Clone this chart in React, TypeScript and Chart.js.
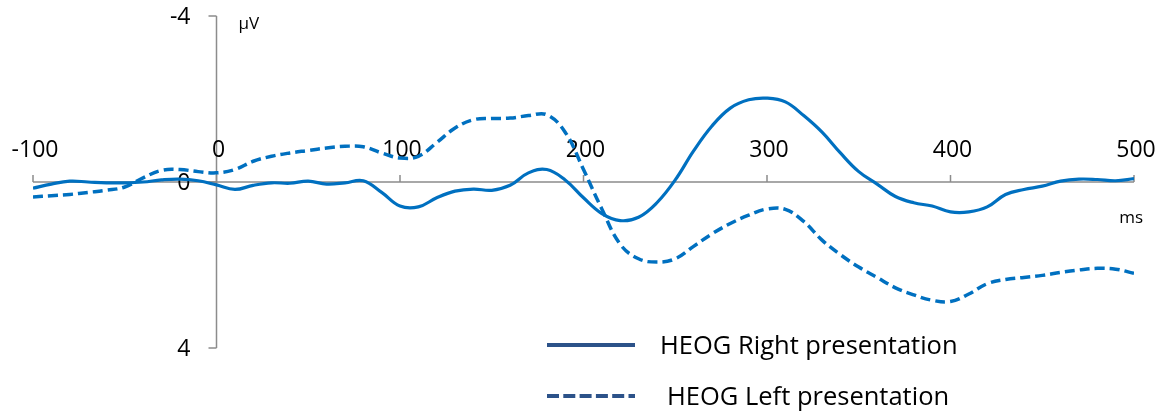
import { useEffect, useRef } from 'react';
import { Chart, registerables } from 'chart.js';

Chart.register(...registerables);

// Time points (ms) of the averaged HEOG waveforms
const timesMs = [
  -100, -90, -80, -70, -60, -50, -40, -30, -20, -10,
  0, 10, 20, 30, 40, 50, 60, 70, 80, 90,
  100, 110, 120, 130, 140, 150, 160, 170, 180, 190,
  200, 210, 220, 230, 240, 250, 260, 270, 280, 290,
  300, 310, 320, 330, 340, 350, 360, 370, 380, 390,
  400, 410, 420, 430, 440, 450, 460, 470, 480, 490,
  500,
];

// HEOG, right-hemifield presentation (µV)
const heogRight = [
  0.15, 0.05, -0.02, 0.0, 0.02, 0.02, 0.0, -0.05, -0.07, -0.03,
  0.07, 0.18, 0.08, 0.02, 0.03, -0.02, 0.05, 0.02, -0.03, 0.25,
  0.58, 0.6, 0.38, 0.22, 0.17, 0.2, 0.08, -0.22, -0.3, -0.05,
  0.38, 0.76, 0.93, 0.85, 0.5, -0.05, -0.75, -1.35, -1.78, -1.98,
  -2.02, -1.93, -1.6, -1.2, -0.7, -0.25, 0.05, 0.35, 0.5, 0.58,
  0.72, 0.72, 0.6, 0.3, 0.18, 0.1, -0.02, -0.07, -0.06, -0.03,
  -0.08,
];

// HEOG, left-hemifield presentation (µV)
const heogLeft = [
  0.36, 0.33, 0.3, 0.25, 0.2, 0.12, -0.1, -0.28, -0.3, -0.25,
  -0.22, -0.3, -0.5, -0.62, -0.7, -0.76, -0.82, -0.86, -0.85, -0.7,
  -0.58, -0.62, -0.95, -1.3, -1.5, -1.53, -1.54, -1.6, -1.62, -1.2,
  -0.3, 0.65, 1.5, 1.85, 1.93, 1.85, 1.55, 1.25, 1.0, 0.8,
  0.65, 0.66, 0.95, 1.4, 1.75, 2.05, 2.3, 2.55, 2.72, 2.85,
  2.88, 2.7, 2.45, 2.35, 2.3, 2.25, 2.18, 2.12, 2.08, 2.1,
  2.2,
];

const xTicks = [-100, 0, 100, 200, 300, 400, 500];
const yTicks = [-4, 0, 4];
const seriesNames = ['HEOG Right presentation', 'HEOG Left presentation'];

const FONT = "'Open Sans', sans-serif";
const AXIS_GREY = '#8c8c8c';
const LINE_BLUE = '#0070c0';
const LEGEND_BLUE = '#2c5289';

// Axes crossing at (0 ms, 0 µV), with tick labels above the time axis
const crossAxesPlugin = {
  id: 'crossAxes',
  beforeDatasetsDraw(chart: any) {
    const { ctx } = chart;
    const xs = chart.scales.x;
    const ys = chart.scales.y;
    const y0 = ys.getPixelForValue(0);
    const x0 = xs.getPixelForValue(0);
    const xLeft = xs.getPixelForValue(xTicks[0]);
    const xRight = xs.getPixelForValue(xTicks[xTicks.length - 1]);
    const yTop = ys.getPixelForValue(yTicks[0]);
    const yBottom = ys.getPixelForValue(yTicks[yTicks.length - 1]);

    ctx.save();
    ctx.strokeStyle = AXIS_GREY;
    ctx.lineWidth = 1.5;

    // time axis + upward ticks
    ctx.beginPath();
    ctx.moveTo(xLeft, y0);
    ctx.lineTo(xRight, y0);
    xTicks.forEach((t) => {
      const px = xs.getPixelForValue(t);
      ctx.moveTo(px, y0);
      ctx.lineTo(px, y0 - 7);
    });
    ctx.stroke();

    // amplitude axis + left ticks
    ctx.beginPath();
    ctx.moveTo(x0, yTop);
    ctx.lineTo(x0, yBottom);
    yTicks.forEach((v) => {
      const py = ys.getPixelForValue(v);
      ctx.moveTo(x0 - 8, py);
      ctx.lineTo(x0, py);
    });
    ctx.stroke();

    ctx.fillStyle = '#000';
    ctx.font = `23px ${FONT}`;
    ctx.textBaseline = 'alphabetic';
    ctx.textAlign = 'center';
    xTicks.forEach((t) => {
      ctx.fillText(String(t), xs.getPixelForValue(t) + 2, y0 - 25);
    });

    ctx.textAlign = 'right';
    yTicks.forEach((v) => {
      ctx.fillText(String(v), x0 - 26, ys.getPixelForValue(v) + 8);
    });

    ctx.font = `17px ${FONT}`;
    ctx.textAlign = 'left';
    ctx.fillText('µV', x0 + 22, yTop + 13);
    ctx.textAlign = 'right';
    ctx.fillText('ms', xRight + 9, y0 + 41);
    ctx.restore();
  },
  afterDraw(chart: any) {
    const { ctx } = chart;
    const rows = [
      { y: 345, dash: [] as number[], textX: 660 },
      { y: 396, dash: [12, 4.3], textX: 667 },
    ];
    ctx.save();
    rows.forEach((row, i) => {
      ctx.strokeStyle = LEGEND_BLUE;
      ctx.lineWidth = 4;
      ctx.setLineDash(row.dash);
      ctx.beginPath();
      ctx.moveTo(547, row.y);
      ctx.lineTo(635, row.y);
      ctx.stroke();
      ctx.setLineDash([]);
      ctx.fillStyle = '#000';
      ctx.font = `25.5px ${FONT}`;
      ctx.textAlign = 'left';
      ctx.textBaseline = 'alphabetic';
      ctx.fillText(seriesNames[i], row.textX, row.y + 9);
    });
    ctx.restore();
  },
};

export default function App() {
  const canvasRef = useRef<HTMLCanvasElement | null>(null);

  useEffect(() => {
    if (!canvasRef.current) return;
    const toPoints = (vals: number[]) => timesMs.map((t, i) => ({ x: t, y: vals[i] }));
    const chart = new Chart(canvasRef.current, {
      type: 'line',
      data: {
        datasets: [
          {
            label: seriesNames[0],
            data: toPoints(heogRight),
            borderColor: LINE_BLUE,
            borderWidth: 3.2,
            pointRadius: 0,
            tension: 0.4,
            fill: false,
          },
          {
            label: seriesNames[1],
            data: toPoints(heogLeft),
            borderColor: LINE_BLUE,
            borderWidth: 3.5,
            borderDash: [10, 5],
            pointRadius: 0,
            tension: 0.4,
            fill: false,
          },
        ],
      },
      options: {
        responsive: false,
        animation: false,
        layout: { padding: { left: 33, right: 31, top: 16, bottom: 64 } },
        scales: {
          x: { type: 'linear', min: -100, max: 500, display: false },
          y: { type: 'linear', min: -4, max: 4, reverse: true, display: false },
        },
        plugins: {
          legend: { display: false },
          tooltip: { enabled: false },
        },
      },
      plugins: [crossAxesPlugin],
    });
    return () => chart.destroy();
  }, []);

  return (
    <div style={{ position: 'fixed', left: 0, top: 0, width: 1165, height: 412, background: '#fff' }}>
      <canvas ref={canvasRef} width={1165} height={412} style={{ display: 'block' }} />
    </div>
  );
}
